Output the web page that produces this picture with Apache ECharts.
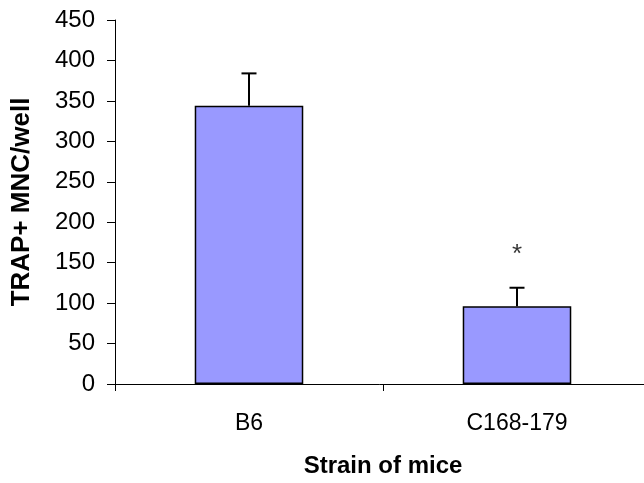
<!DOCTYPE html>
<html><head><meta charset="utf-8">
<script src="https://cdn.jsdelivr.net/npm/echarts@6/dist/echarts.min.js"></script>
<style>html,body{margin:0;padding:0;background:#fff}#c{width:644px;height:483px}</style>
</head><body><div id="c"></div>
<script>
const categories = ['B6', 'C168-179'];
const means = [344, 96];
const errUpper = [384, 119];
const marks = ['', '*'];
const markValues = [null, 160];
const yTicks = [0, 50, 100, 150, 200, 250, 300, 350, 400, 450];

const chart = echarts.init(document.getElementById('c'));
const font = 'Arial, "Liberation Sans", sans-serif';
chart.setOption({
  animation: false,
  grid: { left: 115, top: 20, bottom: 99, width: 536, containLabel: false, outerBoundsMode: 'none' },
  xAxis: {
    type: 'category', data: categories,
    name: 'Strain of mice', nameLocation: 'middle', nameGap: 70,
    nameTextStyle: { fontFamily: font, fontSize: 24, fontWeight: 'bold', color: '#000' },
    axisLine: { lineStyle: { color: '#000', width: 1 } },
    axisTick: { show: true, length: 7, lineStyle: { color: '#000' } },
    axisLabel: { fontFamily: font, fontSize: 23, color: '#000', margin: 28 }
  },
  yAxis: {
    type: 'value', min: yTicks[0], max: yTicks[yTicks.length - 1], interval: 50,
    name: 'TRAP+ MNC/well', nameLocation: 'middle', nameGap: 80,
    nameTextStyle: { fontFamily: font, fontSize: 26, fontWeight: 'bold', color: '#000' },
    axisLine: { show: true, lineStyle: { color: '#000', width: 1 } },
    axisTick: { show: true, length: 8, lineStyle: { color: '#000' } },
    splitLine: { show: false },
    axisLabel: { fontFamily: font, fontSize: 24, color: '#000', margin: 20 }
  },
  series: [
    {
      type: 'bar', data: means, barWidth: '40.5%',
      itemStyle: { color: '#9999FF', borderColor: '#000', borderWidth: 1.5 }
    },
    {
      type: 'custom', z: 1,
      data: categories.map((c, i) => [i, means[i], errUpper[i]]),
      renderItem: function (params, api) {
        const top = api.coord([api.value(0), api.value(2)]);
        const base = api.coord([api.value(0), api.value(1)]);
        const hw = 7.5;
        return {
          type: 'group', children: [
            { type: 'line', shape: { x1: top[0], y1: top[1], x2: base[0], y2: base[1] }, style: { stroke: '#000', lineWidth: 2 } },
            { type: 'line', shape: { x1: top[0] - hw, y1: top[1], x2: top[0] + hw, y2: top[1] }, style: { stroke: '#000', lineWidth: 2 } }
          ]
        };
      }
    },
    {
      type: 'scatter', symbolSize: 0,
      data: markValues.map((v, i) => v == null ? null : { value: [i, v], label: { show: true, formatter: marks[i] } }),
      label: { show: true, position: 'inside', fontFamily: font, fontSize: 26, color: '#000' }
    }
  ]
});
</script></body></html>
